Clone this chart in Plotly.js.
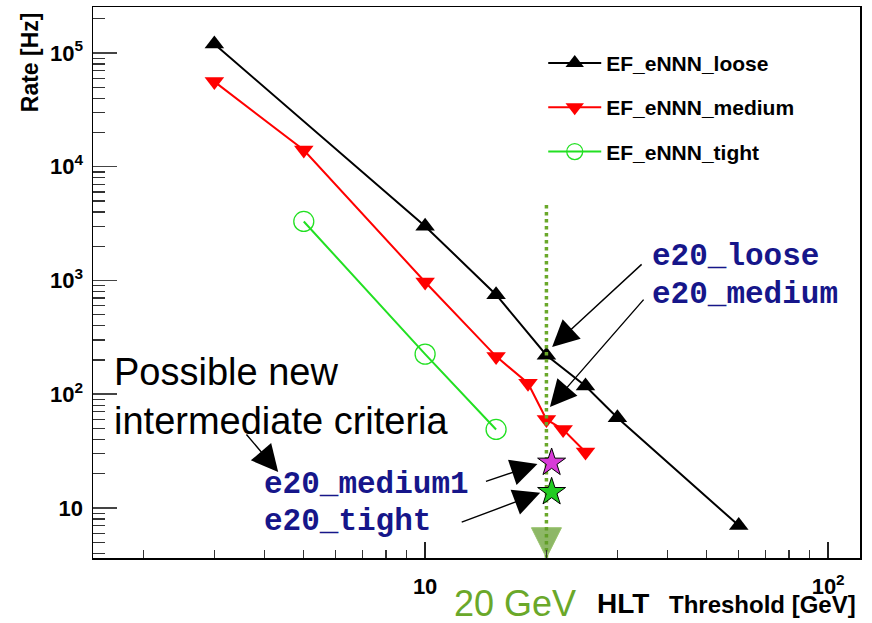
<!DOCTYPE html>
<html>
<head>
<meta charset="utf-8">
<script src="https://cdn.plot.ly/plotly-3.0.1.min.js"></script>
<style>html,body{margin:0;padding:0;background:#fff;} #chart{width:872px;height:623px;}</style>
</head>
<body>
<div id="chart"></div>
<script>
// ---- data ----
const looseX = [3, 10, 15, 20, 25, 30, 60];
const looseY = [120000, 3000, 750, 220, 118, 62, 7];
const mediumX = [3, 5, 10, 15, 18, 20, 22, 25];
const mediumY = [56000, 14000, 970, 215, 125, 60, 49, 31];
const tightX = [5, 10, 15];
const tightY = [3300, 225, 49];
const newCritX = [20.6, 20.6];
const newCritY = [25, 13.8];
const newCritNames = ['e20_medium1', 'e20_tight'];
const thresholdX = [20, 20];
const thresholdY = [4600, 3.65];
const seriesNames = ['EF_eNNN_loose', 'EF_eNNN_medium', 'EF_eNNN_tight'];
const xTickVals = [10, 100];
const xTickText = ['10', '10<sup>2</sup>'];
const yTickVals = [10, 100, 1000, 10000, 100000];
const yTickText = ['10', '10<sup>2</sup>', '10<sup>3</sup>', '10<sup>4</sup>', '10<sup>5</sup>'];
const xMinor = [2,3,4,5,6,7,8,9,20,30,40,50,60,70,80,90];
const yMinor = [4,5,6,7,8,9,20,30,40,50,60,70,80,90,200,300,400,500,600,700,800,900,
  2000,3000,4000,5000,6000,7000,8000,9000,20000,30000,40000,50000,60000,70000,80000,90000,200000];

const SANS = 'Liberation Sans, Arial, sans-serif';
const MONO = 'Liberation Mono, Courier New, monospace';
const NAVY = '#16168a';
const GREEN20 = '#6aa82a';

const traces = [
  {x: looseX, y: looseY, name: seriesNames[0], legendgroup: 'a', mode: 'lines+markers',
   line: {color: '#000', width: 2}, marker: {symbol: 'triangle-up', size: 17, color: '#000'}},
  {x: mediumX, y: mediumY, name: seriesNames[1], legendgroup: 'b', mode: 'lines+markers',
   line: {color: '#ff0000', width: 2}, marker: {symbol: 'triangle-down', size: 17, color: '#ff0000'}},
  {x: tightX, y: tightY, name: seriesNames[2], legendgroup: 'c', mode: 'lines+markers',
   line: {color: '#22e022', width: 2}, marker: {symbol: 'circle-open', size: 20, color: '#22e022', line: {width: 1.3}}},
  {x: thresholdX, y: thresholdY, mode: 'lines+markers', showlegend: false, cliponaxis: false,
   line: {color: GREEN20, width: 3.5, dash: 'dot'},
   marker: {symbol: 'arrow-down', size: [0, 30], color: '#5e9a26'}},
  {x: newCritX, y: newCritY, text: newCritNames, mode: 'markers', showlegend: false,
   marker: {symbol: 'star', size: 21, color: ['#d83ad8', '#22cc22'], line: {color: '#000', width: 1}}}
];

const L = Math.log10;
const pointers = [
  {tx: 20.66, ty: 260, ax: 91, ay: -84},
  {tx: 20.4, ty: 77, ax: 95, ay: -109},
  {tx: 4.32, ty: 20.7, ax: -33, ay: -39},
  {tx: 19.0, ty: 24.4, ax: -53, ay: 18},
  {tx: 19.3, ty: 13.6, ax: -80, ay: 30}
];
const annotations = pointers.map(p => ({
  x: L(p.tx), y: L(p.ty), xref: 'x', yref: 'y', ax: p.ax, ay: p.ay, text: '',
  showarrow: true, arrowhead: 2, arrowsize: 3.8, arrowwidth: 1.4, arrowcolor: '#000'
}));
function txt(text, x, y, font, xanchor, extra) {
  return Object.assign({text: text, x: x, y: y, xref: 'paper', yref: 'paper', showarrow: false,
    xanchor: xanchor || 'left', yanchor: 'middle', font: font}, extra || {});
}
annotations.push(
  txt('e20_loose', 0.726, 0.548, {family: MONO, size: 31, weight: 'bold', color: NAVY}),
  txt('e20_medium', 0.726, 0.479, {family: MONO, size: 31, weight: 'bold', color: NAVY}),
  txt(newCritNames[0], 0.220, 0.134, {family: MONO, size: 31, weight: 'bold', color: NAVY}),
  txt(newCritNames[1], 0.220, 0.067, {family: MONO, size: 31, weight: 'bold', color: NAVY}),
  txt('Possible new<br>intermediate criteria', 0.025, 0.294, {family: SANS, size: 38, color: '#000'}, 'left', {align: 'left'}),
  txt('20 GeV', 0.468, -0.083, {family: SANS, size: 36, color: GREEN20}),
  txt('HLT', 0.655, -0.083, {family: SANS, size: 28, weight: 'bold', color: '#000'}),
  txt('Threshold [GeV]', 0.998, -0.085, {family: SANS, size: 24, weight: 'bold', color: '#000'}, 'right'),
  txt('Rate [Hz]', -0.082, 0.90, {family: SANS, size: 23, weight: 'bold', color: '#000'}, 'center', {textangle: -90})
);

const layout = {
  width: 872, height: 623,
  margin: {l: 93, r: 12, t: 7, b: 65, pad: 0},
  paper_bgcolor: '#fff', plot_bgcolor: '#fff',
  showlegend: true,
  legend: {x: 0.587, y: 0.935, xanchor: 'left', yanchor: 'top', bgcolor: 'rgba(0,0,0,0)', borderwidth: 0,
    itemwidth: 53, tracegroupgap: 14, font: {family: SANS, size: 21, weight: 'bold', color: '#000'}},
  xaxis: {type: 'log', range: [0.176, 2.079], showgrid: false, zeroline: false,
    showline: true, linecolor: '#000', linewidth: 1.5, mirror: true,
    ticks: 'inside', ticklen: 16, tickwidth: 1.5, tickcolor: '#222',
    tickmode: 'array', tickvals: xTickVals, ticktext: xTickText, ticklabelstandoff: 8,
    tickfont: {family: SANS, size: 22, weight: 'bold', color: '#000'},
    minor: {tickmode: 'array', tickvals: xMinor, ticks: 'inside', ticklen: 8, tickwidth: 1.2, tickcolor: '#333', showgrid: false}},
  yaxis: {type: 'log', range: [0.56, 5.404], showgrid: false, zeroline: false,
    showline: true, linecolor: '#000', linewidth: 1.5, mirror: true,
    ticks: 'inside', ticklen: 24, tickwidth: 1.5, tickcolor: '#444',
    tickmode: 'array', tickvals: yTickVals, ticktext: yTickText, ticklabelstandoff: 4,
    tickfont: {family: SANS, size: 22, weight: 'bold', color: '#000'},
    minor: {tickmode: 'array', tickvals: yMinor, ticks: 'inside', ticklen: 12, tickwidth: 1.2, tickcolor: '#333', showgrid: false}},
  annotations: annotations
};

Plotly.newPlot('chart', traces, layout, {displayModeBar: false, staticPlot: true});
</script>
</body>
</html>
